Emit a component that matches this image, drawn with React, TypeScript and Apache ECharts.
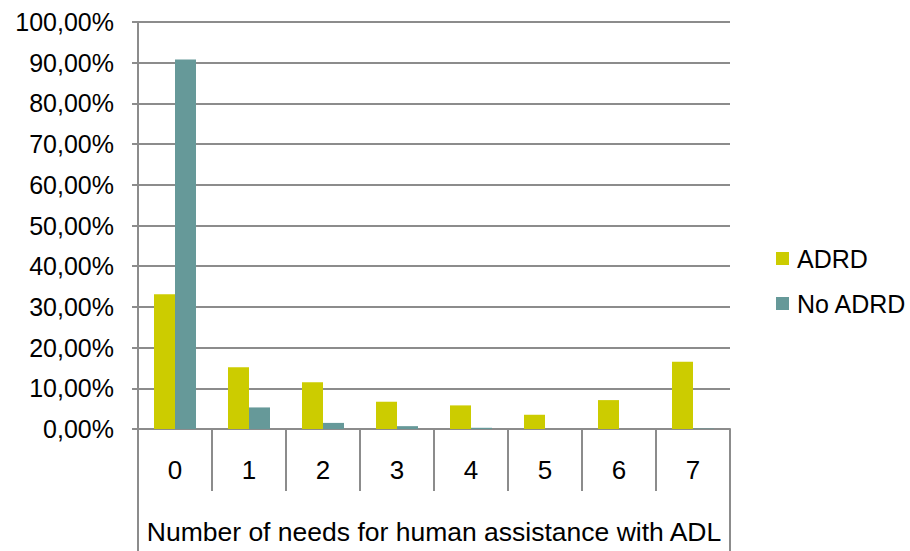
import React, { useEffect, useRef } from "react";
import * as echarts from "echarts";

const categories = ["0", "1", "2", "3", "4", "5", "6", "7"];
const adrd = [33.1, 15.2, 11.5, 6.7, 5.8, 3.5, 7.1, 16.5];
const noAdrd = [90.8, 5.3, 1.5, 0.7, 0.3, 0.0, 0.0, 0.1];
const axisTitle = "Number of needs for human assistance with ADL";
const seriesNames = ["ADRD", "No ADRD"];

const FONT = "Liberation Sans, Arial, sans-serif";
const GRAY = "#8c8c8c";

export default function App() {
  const ref = useRef<HTMLDivElement>(null);
  useEffect(() => {
    if (!ref.current) return;
    const chart = echarts.init(ref.current, null, { renderer: "svg" });
    chart.setOption({
      animation: false,
      textStyle: { fontFamily: FONT },
      grid: { left: 138, right: 180, top: 22, bottom: 122, containLabel: false },
      legend: {
        orient: "vertical",
        left: 771,
        top: 241,
        itemWidth: 13,
        itemHeight: 13,
        itemGap: 20,
        icon: "rect",
        data: seriesNames,
        textStyle: { fontSize: 25, color: "#000", fontFamily: FONT, padding: [0, 0, 0, 3] },
      },
      xAxis: [
        {
          type: "category",
          data: categories,
          axisLine: { lineStyle: { color: GRAY, width: 2 } },
          axisTick: { show: true, length: 62, alignWithLabel: false, lineStyle: { color: GRAY, width: 2 } },
          axisLabel: { fontSize: 26, color: "#000", margin: 28, fontFamily: FONT },
        },
        {
          type: "category",
          position: "bottom",
          data: [axisTitle],
          axisLine: { show: false },
          axisTick: { show: true, length: 122, alignWithLabel: false, lineStyle: { color: GRAY, width: 2 } },
          axisLabel: { fontSize: 26.5, color: "#000", margin: 89, fontFamily: FONT },
        },
      ],
      yAxis: {
        type: "value",
        min: 0,
        max: 100,
        interval: 10,
        axisLine: { show: true, lineStyle: { color: GRAY, width: 2 } },
        axisTick: { show: true, length: 6, inside: false, lineStyle: { color: GRAY, width: 2 } },
        splitLine: { show: true, lineStyle: { color: GRAY, width: 2 } },
        axisLabel: {
          fontSize: 25,
          color: "#000",
          margin: 24,
          fontFamily: FONT,
          formatter: (v: number) => v.toFixed(2).replace(".", ",") + "%",
        },
      },
      series: [
        {
          name: seriesNames[0],
          type: "bar",
          data: adrd,
          barWidth: 21,
          barGap: "0%",
          itemStyle: { color: "#cccc00" },
        },
        {
          name: seriesNames[1],
          type: "bar",
          data: noAdrd,
          barWidth: 21,
          barGap: "0%",
          itemStyle: { color: "#669999" },
        },
      ],
    });
    return () => chart.dispose();
  }, []);
  return (
    <div
      ref={ref}
      style={{ position: "fixed", left: 0, top: 0, width: 910, height: 551, background: "#fff" }}
    />
  );
}
